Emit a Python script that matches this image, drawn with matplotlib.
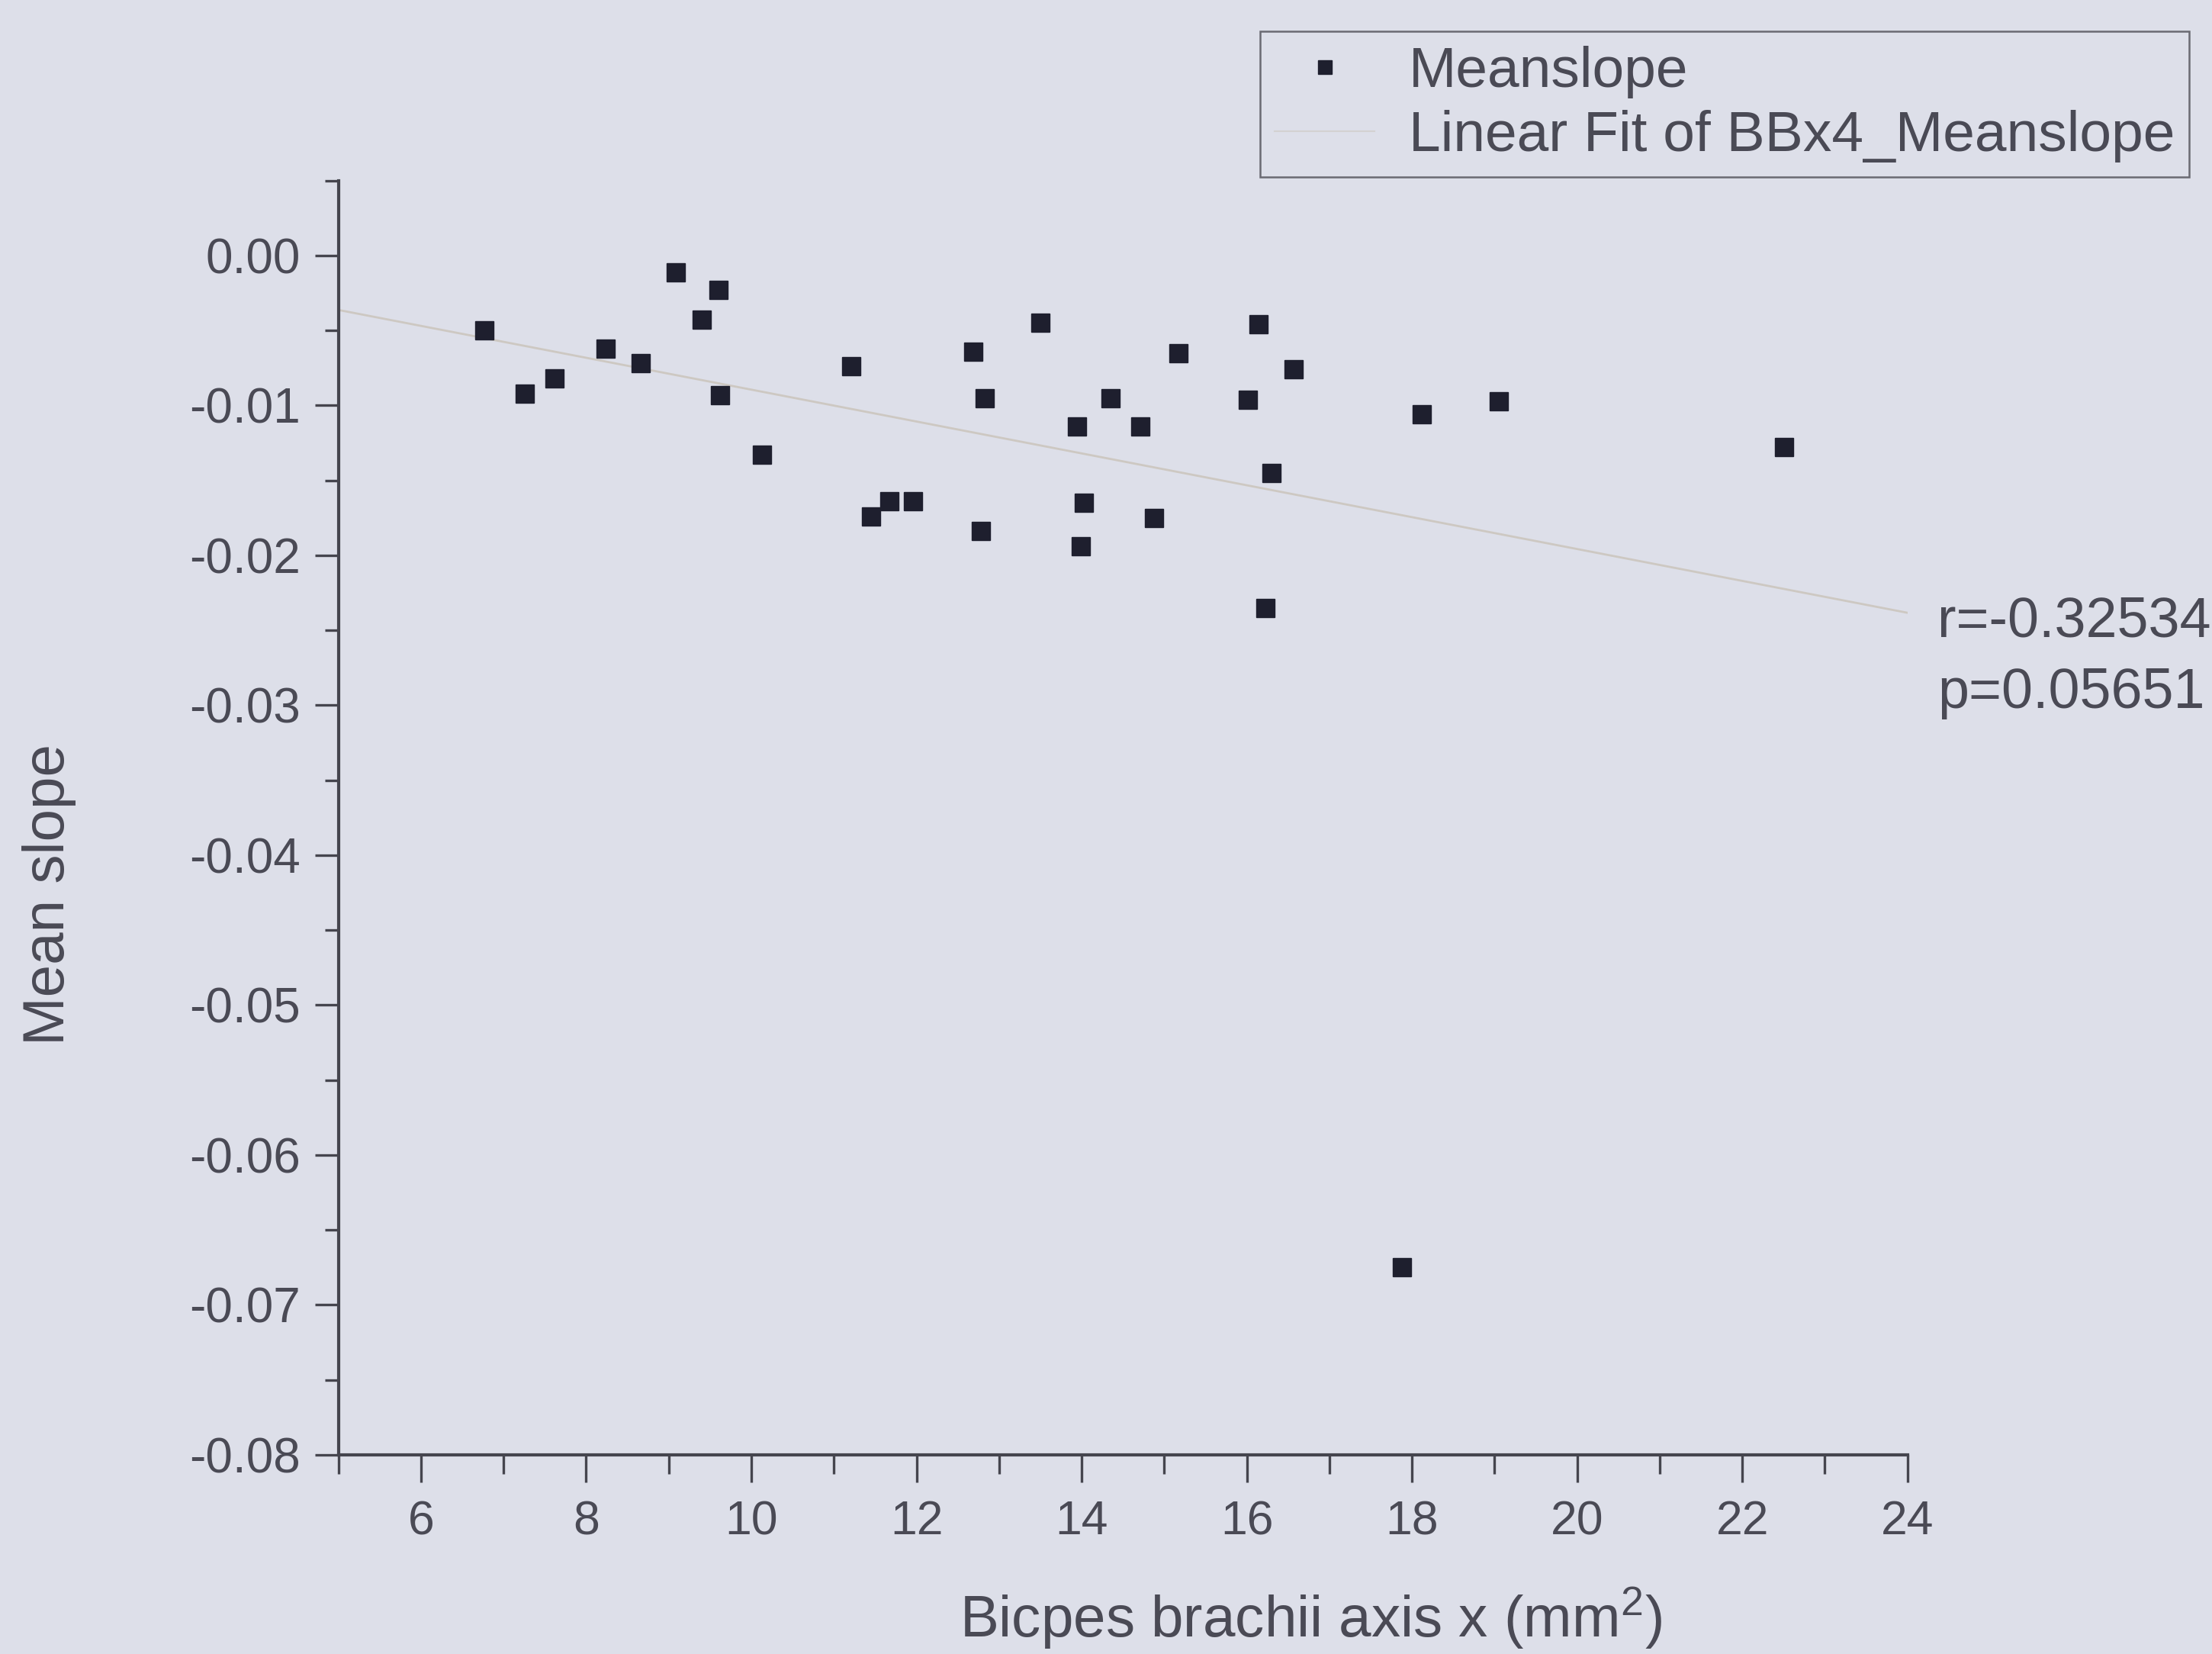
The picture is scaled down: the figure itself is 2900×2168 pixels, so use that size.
import matplotlib
matplotlib.use("Agg")
import matplotlib.pyplot as plt
from matplotlib.ticker import MultipleLocator, FormatStrFormatter
from matplotlib.lines import Line2D
import numpy as np

# biceps brachii cross-section vs mean slope
bb_area = [6.77, 7.26, 7.62, 8.24, 8.66, 9.09, 9.40, 9.60, 9.62, 10.13,
           11.21, 11.45, 11.67, 11.96, 12.69, 12.78, 12.83, 13.50, 13.94, 14.03,
           13.99, 14.35, 14.71, 14.88, 15.17, 16.01, 16.14, 16.23, 16.30, 16.57,
           17.88, 18.12, 19.05, 22.51]
mean_slope = [-0.0050, -0.0092, -0.0082, -0.0062, -0.0072, -0.0011, -0.0043, -0.0023, -0.0093, -0.0133,
              -0.0074, -0.0174, -0.0164, -0.0164, -0.0064, -0.0184, -0.0095, -0.0045, -0.0114, -0.0165,
              -0.0194, -0.0095, -0.0114, -0.0175, -0.0065, -0.0096, -0.0046, -0.0235, -0.0145, -0.0076,
              -0.0675, -0.0106, -0.0097, -0.0128]
stats_text = "r=-0.32534\np=0.05651"

bg = '#dddfe9'
txt = '#4a4a55'
fitcol = '#cdc8c2'
axcol = '#45454e'

plt.rcParams['font.family'] = ['Liberation Sans', 'DejaVu Sans']
plt.rcParams['mathtext.fontset'] = 'custom'
plt.rcParams['mathtext.rm'] = 'Liberation Sans'
plt.rcParams['mathtext.it'] = 'Liberation Sans'

fig = plt.figure(figsize=(29, 21.68), dpi=100, facecolor=bg)
ax = fig.add_axes([0.153, 0.1205, 0.7093, 0.7703])
ax.set_facecolor(bg)

x = np.array(bb_area)
y = np.array(mean_slope)
k, b = np.polyfit(x, y, 1)
xf = np.array([5, 24])
ax.plot(xf, k * xf + b, color=fitcol, lw=2.0, zorder=1)
ax.plot(x, y, ls='none', marker='s', ms=17, color='#1e1f2e', zorder=2)

ax.set_xlim(5, 24)
ax.set_ylim(-0.08, 0.005)
ax.xaxis.set_major_locator(MultipleLocator(2))
ax.xaxis.set_minor_locator(MultipleLocator(1))
ax.yaxis.set_major_locator(MultipleLocator(0.01))
ax.yaxis.set_minor_locator(MultipleLocator(0.005))
ax.yaxis.set_major_formatter(FormatStrFormatter('%.2f'))
ax.set_xticks([6, 8, 10, 12, 14, 16, 18, 20, 22, 24])

for s in ['top', 'right']:
    ax.spines[s].set_visible(False)
for s in ['left', 'bottom']:
    ax.spines[s].set_color(axcol)
    ax.spines[s].set_linewidth(3)

ax.tick_params(axis='y', which='major', direction='out', length=22, width=2.4,
               color=axcol, labelsize=46, labelcolor=txt, pad=14)
ax.tick_params(axis='y', which='minor', direction='out', length=13, width=2.4, color=axcol)
ax.tick_params(axis='x', which='major', direction='out', length=26, width=2.4,
               color=axcol, labelsize=45, labelcolor=txt, pad=16)
ax.tick_params(axis='x', which='minor', direction='out', length=18, width=2.4, color=axcol)

fig.text(0.0224, 0.459, 'Mean slope', rotation=90, ha='center', va='center',
         fontsize=55, color=txt)
fig.text(0.5925, 0.0217, r'Bicpes brachii axis x (mm$^2$)', ha='center', va='center',
         fontsize=55, color=txt)
fig.text(0.876, 0.6024, stats_text, ha='left', va='center', fontsize=53,
         color=txt, linespacing=1.45)

handles = [Line2D([0], [0], ls='none', marker='s', ms=13, color='#1e1f2e'),
           Line2D([0], [0], color=fitcol, lw=1.5, alpha=0.6)]
leg = ax.legend(handles, ['Meanslope', 'Linear Fit of BBx4_Meanslope'],
                loc='upper left', bbox_to_anchor=(0.5697, 0.981),
                bbox_transform=fig.transFigure, borderaxespad=0, borderpad=0.25,
                handlelength=1.75, handletextpad=0.6, labelspacing=0.2,
                fontsize=54, frameon=True, fancybox=False, shadow=False)
for t in leg.get_texts():
    t.set_color(txt)
leg.get_frame().set_facecolor(bg)
leg.get_frame().set_edgecolor('#6a6a72')
leg.get_frame().set_linewidth(1.8)
leg.get_frame().set_alpha(1)

fig.savefig('out.png', dpi=100, facecolor=bg)
